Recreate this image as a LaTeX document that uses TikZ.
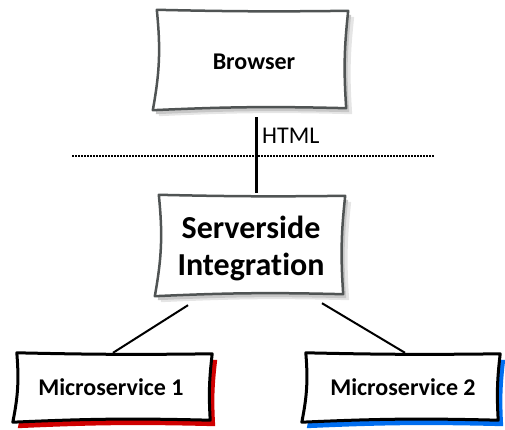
\documentclass[tikz,border=0pt]{standalone}
\usepackage{fontspec}
\setmainfont{Carlito}[Ligatures=NoCommon]
\usetikzlibrary{calc}
\definecolor{msred}{RGB}{208,0,0}
\definecolor{msblue}{RGB}{0,110,240}
\definecolor{boxgray}{RGB}{80,84,84}
\newcommand\skpath[1]{($(#1.north west)+(2,0)$) to[bend right=1] ($(#1.north east)+(0,-1)$) to[bend right=5] ($(#1.south east)+(-2,1)$) to[bend right=2] ($(#1.south west)+(-2,-1)$) to[bend right=8] ($(#1.north west)+(2,0)$) -- cycle}
\tikzset{
  x=1pt, y=1pt,
  boxnode/.style={rectangle, inner sep=0pt, align=center, font=\bfseries\fontsize{24}{28}\selectfont},
  grayline/.style={draw=boxgray, line width=2.5pt, fill=white, line join=round},
  blackline/.style={draw=black, line width=3pt, fill=white, line join=round},
  softshadowA/.style={fill=black!10, transform canvas={shift={(6,-6)}}},
  softshadowB/.style={fill=black!22, transform canvas={shift={(3,-4)}}},
  connector/.style={draw=black, line width=2pt},
}
\begin{document}
\begin{tikzpicture}
\useasboundingbox (0,0) rectangle (505,-430);
% nodes (positions only)
\node[boxnode, minimum width=193pt, minimum height=99pt] (browser) at (251.5,-59.5) {};
\node[boxnode, minimum width=188pt, minimum height=100pt] (server) at (251,-245) {};
\node[boxnode, minimum width=197pt, minimum height=68pt] (ms1) at (113.5,-387) {};
\node[boxnode, minimum width=196pt, minimum height=68pt] (ms2) at (402,-387) {};
% connectors
\draw[connector] ($(server.south)+(-63,-10)$) -- ($(ms1.north)+(-0.5,0)$);
\draw[connector] ($(server.south)+(71,-8)$) -- ($(ms2.north)+(3,0)$);
\draw[line width=3pt] ($(browser.south)+(4.5,-8)$) -- ($(server.north)+(5,2)$);
\draw[line width=2pt, dash pattern=on 1.5pt off 1.5pt] (72,-156) coordinate (dl) -- (435,-156) coordinate (dr);
\node[anchor=west, inner sep=0pt, font=\fontsize{24}{28}\selectfont] (html) at (262,-136) {HTML};
% boxes
\fill[softshadowA] \skpath{browser};
\fill[softshadowB] \skpath{browser};
\path[grayline] \skpath{browser};
\fill[softshadowA] \skpath{server};
\fill[softshadowB] \skpath{server};
\path[grayline] \skpath{server};
\fill[msred, transform canvas={shift={(5,-6)}}] \skpath{ms1};
\path[blackline] \skpath{ms1};
\fill[msblue, transform canvas={shift={(5,-6)}}] \skpath{ms2};
\path[blackline] \skpath{ms2};
% texts
\node[boxnode] (browsertxt) at ($(browser.center)+(2.5,-2)$) {Browser};
\node[boxnode, font=\bfseries\fontsize{32}{37}\selectfont] (servertxt) at ($(server.center)+(0,-3)$) {Serverside\\Integration};
\node[boxnode] (ms1txt) at ($(ms1.center)+(-2.5,0)$) {Microservice 1};
\node[boxnode] (ms2txt) at ($(ms2.center)+(1,0)$) {Microservice 2};
\end{tikzpicture}
\end{document}
